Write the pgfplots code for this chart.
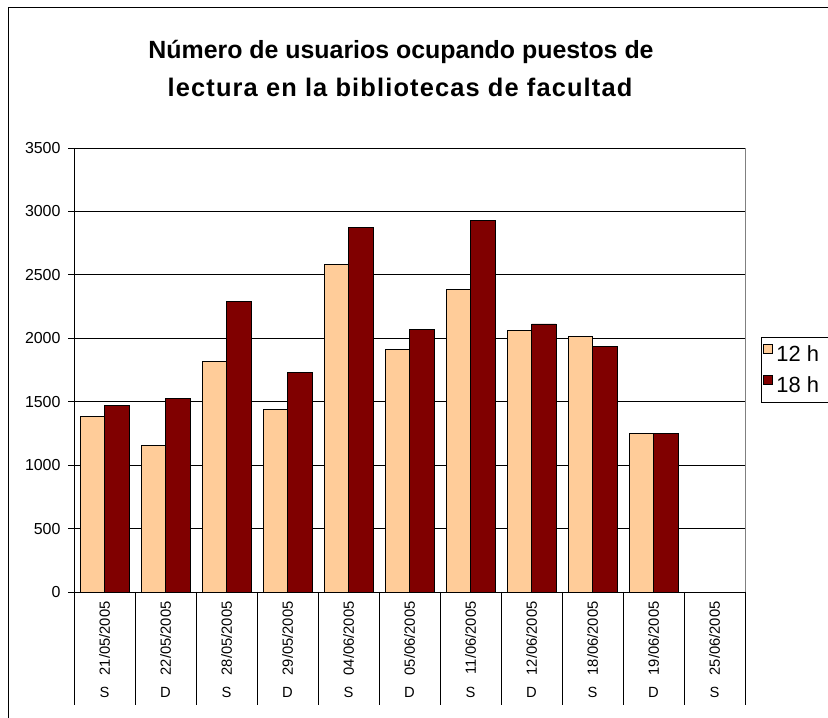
\documentclass[border=0pt]{standalone}
\usepackage{fontspec}
\setmainfont{Liberation Sans}
\usepackage{pgfplots}
\pgfplotsset{compat=1.18}
\definecolor{c12}{HTML}{FFCC99}
\definecolor{c18}{HTML}{800000}
\begin{document}
\begin{tikzpicture}[x=1bp,y=1bp]
\path[use as bounding box] (0,0) rectangle (828,718);
\draw[line width=1bp] (8,0) -- (8,710) -- (830,710);
\node[font=\bfseries\fontsize{25}{35}\selectfont] at (401,666) {Número de usuarios ocupando puestos de};
\node[font=\bfseries\fontsize{25.5}{35}\selectfont\addfontfeature{LetterSpace=4.5}] at (400,631) {lectura en la bibliotecas de facultad};
\begin{axis}[
  at={(74bp,126bp)}, anchor=south west,
  scale only axis, width=671bp, height=444bp,
  xmin=-0.5, xmax=10.5, ymin=0, ymax=3500,
  ytick={0,500,...,3500},
  xtick={0,...,10},
  xticklabels={21/05/2005,22/05/2005,28/05/2005,29/05/2005,04/06/2005,05/06/2005,11/06/2005,12/06/2005,18/06/2005,19/06/2005,25/06/2005},
  xticklabel style={rotate=90, anchor=east, font=\fontsize{14.8}{16}\selectfont},
  major x tick style={draw=none},
  yticklabel style={font=\fontsize{16}{18}\selectfont, xshift=-4bp},
  /pgf/number format/assume math mode=true,
  /pgf/number format/1000 sep={},
  tick align=outside, ytick pos=left,
  major tick length=6bp,
  ytick style={black, line width=0.8bp},
  axis x line*=bottom, axis y line*=left,
  axis line style={black, line width=0.8bp},
  ymajorgrids, grid style={black, line width=0.8bp},
  ybar=0pt, bar width=24.5bp,
  clip=false,
  legend style={at={(1.0238,0.574)}, anchor=north west, draw=black, line width=0.8bp,
    font=\fontsize{22}{24}\selectfont, inner xsep=2bp, inner ysep=6bp, row sep=10bp, column sep=1.5bp,
    cells={anchor=west, inner sep=0pt}},
  legend cell align=left,
  legend image code/.code={\draw[#1, line width=0.6bp] (0bp,1bp) rectangle (9bp,10bp);},
]
\addplot[fill=c12, draw=black, line width=0.8bp] coordinates {(0,1387) (1,1156) (2,1815) (3,1440) (4,2583) (5,1913) (6,2386) (7,2060) (8,2015) (9,1250)};
\addplot[fill=c18, draw=black, line width=0.8bp] coordinates {(0,1469) (1,1527) (2,2288) (3,1732) (4,2875) (5,2068) (6,2930) (7,2113) (8,1934) (9,1248)};
\addlegendentry{\rule{0pt}{13bp}12 h\rule{30bp}{0pt}}
\addlegendentry{\rule{0pt}{13bp}18 h\rule{30bp}{0pt}}
\draw[gray, line width=0.8bp] (rel axis cs:1,0) -- (rel axis cs:1,1);
\pgfplotsinvokeforeach{-0.5,0.5,...,10.5}{\draw[black, line width=0.8bp] (axis cs:#1,0) -- ++(0bp,-113bp);}
\pgfplotsinvokeforeach{0,2,4,6,8,10}{\node[font=\fontsize{14.8}{16}\selectfont] at (axis cs:#1,0) [yshift=-100bp] {S};}
\pgfplotsinvokeforeach{1,3,5,7,9}{\node[font=\fontsize{14.8}{16}\selectfont] at (axis cs:#1,0) [yshift=-100bp] {D};}
\end{axis}
\end{tikzpicture}
\end{document}
